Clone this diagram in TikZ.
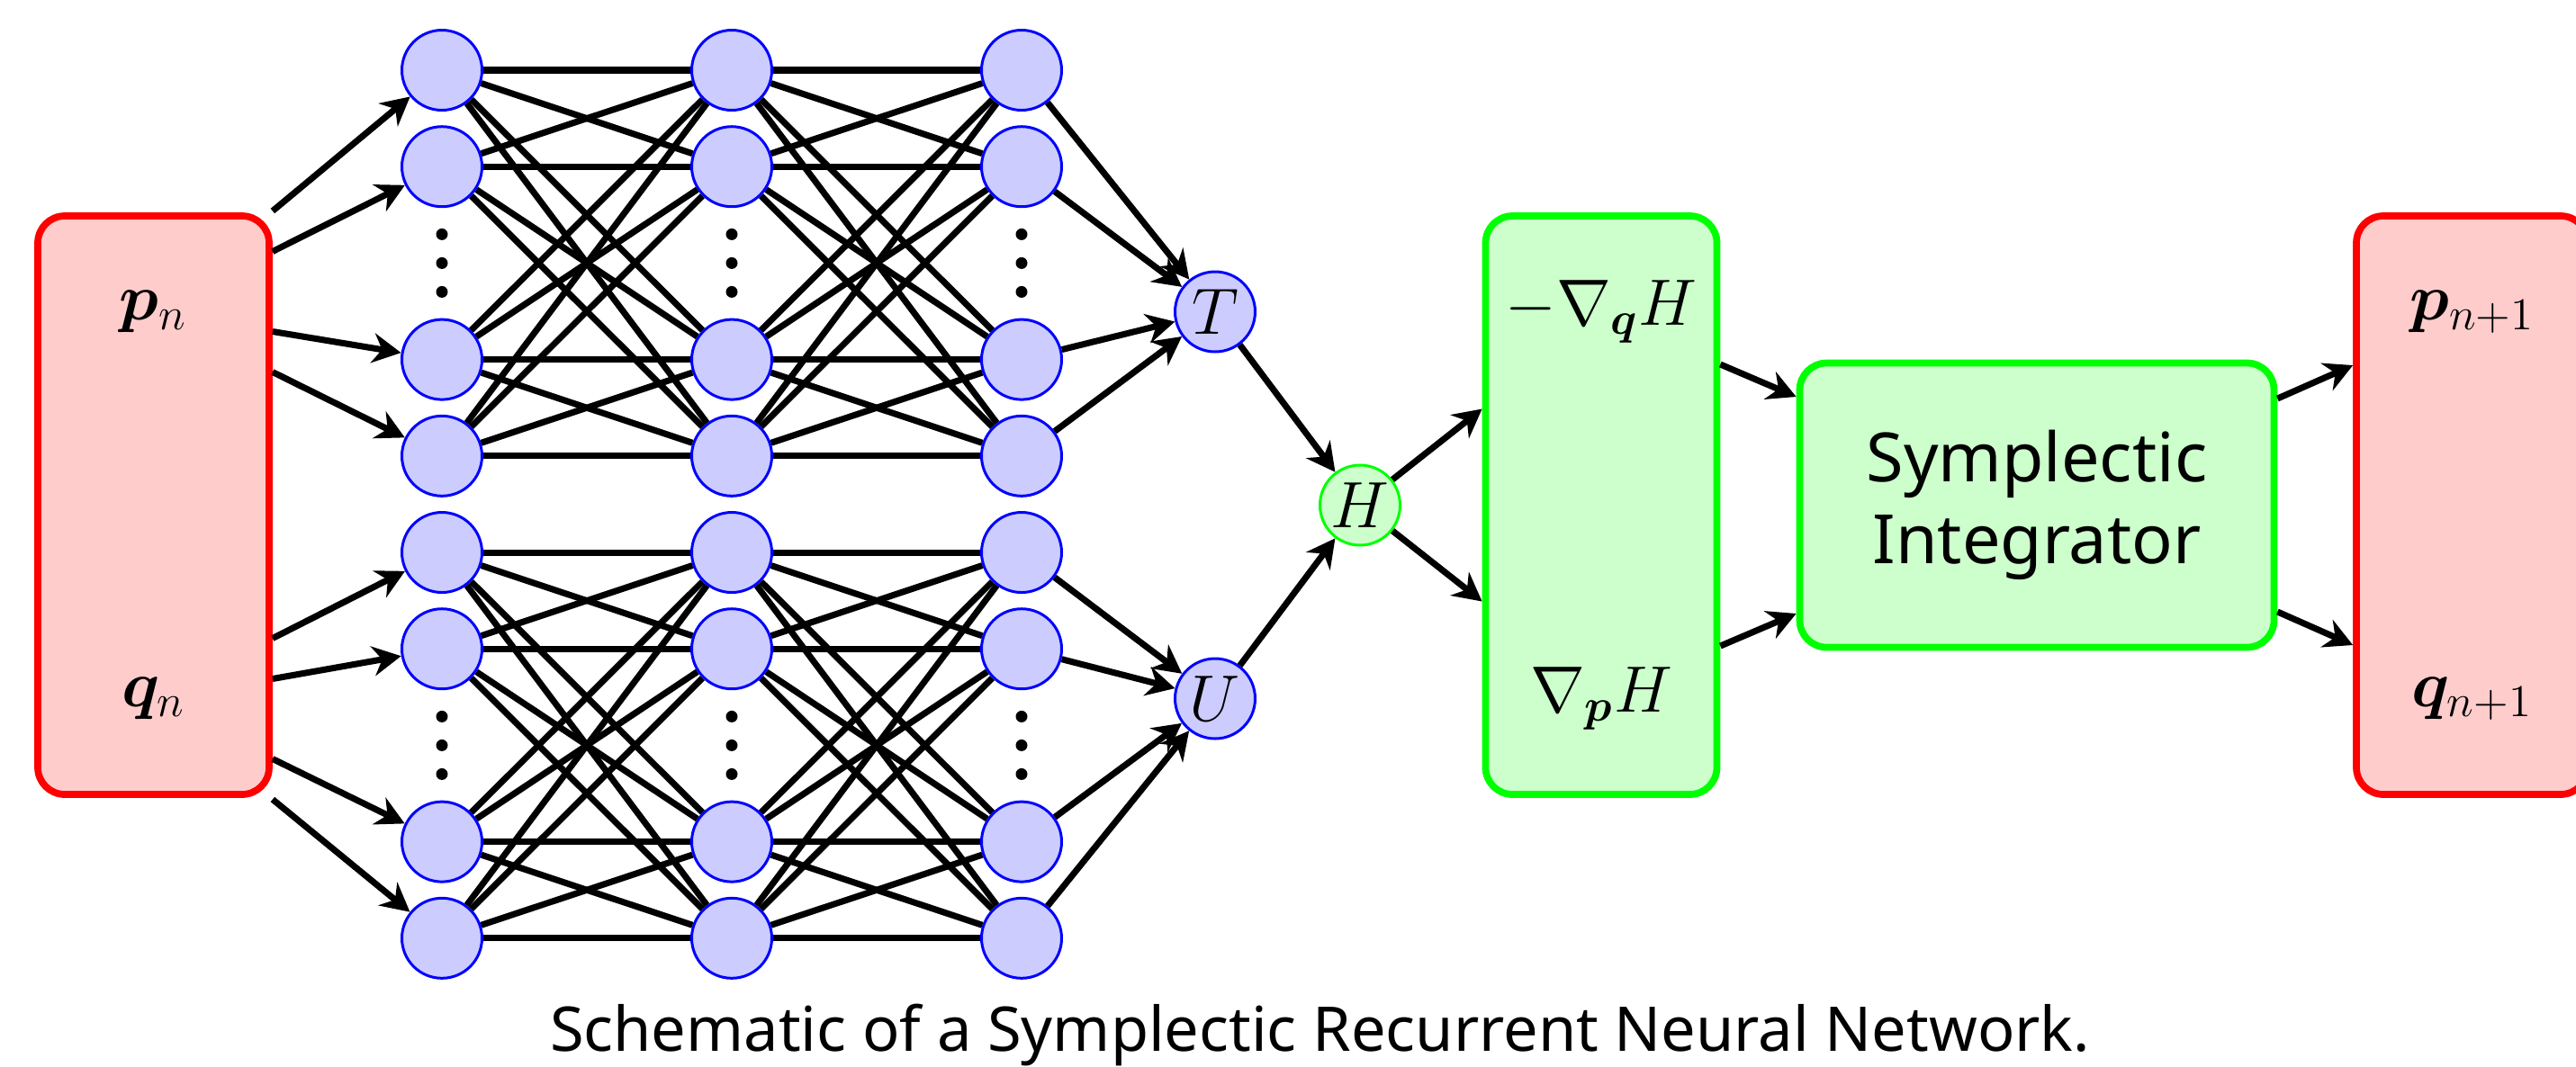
\documentclass[tikz,border=0pt]{standalone}
\usepackage{bm}
\usepackage{fontspec}
\setmainfont{Noto Sans}
\usetikzlibrary{arrows.meta,calc}

\begin{document}
\begin{tikzpicture}[
        font=\fontsize{21.5}{25.8}\selectfont,
        neuron/.style={circle,draw=blue,fill=blue!20,line width=0.85pt,minimum size=0.89cm,inner sep=0pt},
        hnode/.style={circle,draw=green,fill=green!20,line width=0.85pt,minimum size=0.89cm,inner sep=0pt},
        redbox/.style={draw=red,fill=red!20,line width=2.2pt,rounded corners=0.3cm,minimum width=2.57cm,minimum height=6.43cm},
        greenbox/.style={draw=green,fill=green!20,line width=2.2pt,rounded corners=0.3cm},
        link/.style={line width=2pt},
        arr/.style={line width=2pt,-{Stealth[length=9pt,width=9.4pt]}}
    ]
    \useasboundingbox (0,0) rectangle (28.62,-11.85);
    \node[redbox] (in) at (1.705,-5.615) {};
    \node[greenbox,minimum width=2.57cm,minimum height=6.43cm] (grad) at (17.79,-5.615) {};
    \node[greenbox,minimum width=5.27cm,minimum height=3.16cm,align=center] (sym) at (22.63,-5.615) {Symplectic\\Integrator};
    \node[redbox] (out) at (27.465,-5.615) {};
    \node (pin) at (1.705,-3.465) {$\bm{p}_n$};
    \node (qin) at (1.705,-7.765) {$\bm{q}_n$};
    \node (gq) at (17.79,-3.465) {$-\nabla_{\bm{q}}H$};
    \node (gp) at (17.79,-7.765) {$\nabla_{\bm{p}}H$};
    \node (pout) at (27.465,-3.465) {$\bm{p}_{n+1}$};
    \node (qout) at (27.465,-7.765) {$\bm{q}_{n+1}$};
    \foreach \c/\x in {1/4.91,2/8.13,3/11.35} {
        \foreach \k in {0,1,3,4,5,6,8,9} {
            \node[neuron] (n-\c-\k) at (\x,{-0.78-1.072*\k}) {};
        }
        \foreach \k in {2,7} {
            \foreach \d in {-0.32,0,0.32} {
                \fill (\x,{-0.78-1.072*\k+\d}) circle (0.065);
            }
        }
    }
    \node[neuron] (T) at (13.5,-3.465) {$T$};
    \node[neuron] (U) at (13.5,-7.765) {$U$};
    \node[hnode] (H) at (15.11,-5.615) {$H$};
    \foreach \a in {0,1,3,4} {
        \foreach \b in {0,1,3,4} {
            \foreach \s in {0,5} {
                \pgfmathtruncatemacro\ra{\a+\s}
                \pgfmathtruncatemacro\rb{\b+\s}
                \draw[link] (n-1-\ra) -- (n-2-\rb);
                \draw[link] (n-2-\ra) -- (n-3-\rb);
            }
        }
    }
    \foreach \k/\dy in {0/3.27,1/2.82,3/1.93,4/1.48,5/-1.48,6/-1.93,8/-2.82,9/-3.27} {
        \coordinate (in-\k) at ($(in.east)+(0,\dy)$);
        \draw[arr] (in-\k) -- (n-1-\k);
    }
    \foreach \k in {0,1,3,4} {
        \draw[arr] (n-3-\k) -- (T);
    }
    \foreach \k in {5,6,8,9} {
        \draw[arr] (n-3-\k) -- (U);
    }
    \draw[arr] (T) -- (H);
    \draw[arr] (U) -- (H);
    \coordinate (g-top) at ($(grad.west)+(0,1.07)$);
    \coordinate (g-bot) at ($(grad.west)+(0,-1.07)$);
    \draw[arr] (H) -- (g-top);
    \draw[arr] (H) -- (g-bot);
    \coordinate (ge-top) at ($(grad.east)+(0,1.565)$);
    \coordinate (ge-bot) at ($(grad.east)+(0,-1.565)$);
    \coordinate (sw-top) at ($(sym.west)+(0,1.205)$);
    \coordinate (sw-bot) at ($(sym.west)+(0,-1.205)$);
    \draw[arr] (ge-top) -- (sw-top);
    \draw[arr] (ge-bot) -- (sw-bot);
    \coordinate (se-top) at ($(sym.east)+(0,1.185)$);
    \coordinate (se-bot) at ($(sym.east)+(0,-1.185)$);
    \coordinate (ow-top) at ($(out.west)+(0,1.555)$);
    \coordinate (ow-bot) at ($(out.west)+(0,-1.555)$);
    \draw[arr] (se-top) -- (ow-top);
    \draw[arr] (se-bot) -- (ow-bot);
    \node[anchor=base,font=\fontsize{19.5}{23.4}\selectfont] (cap) at (14.665,-11.68) {Schematic of a Symplectic Recurrent Neural Network.};
\end{tikzpicture}
\end{document}
